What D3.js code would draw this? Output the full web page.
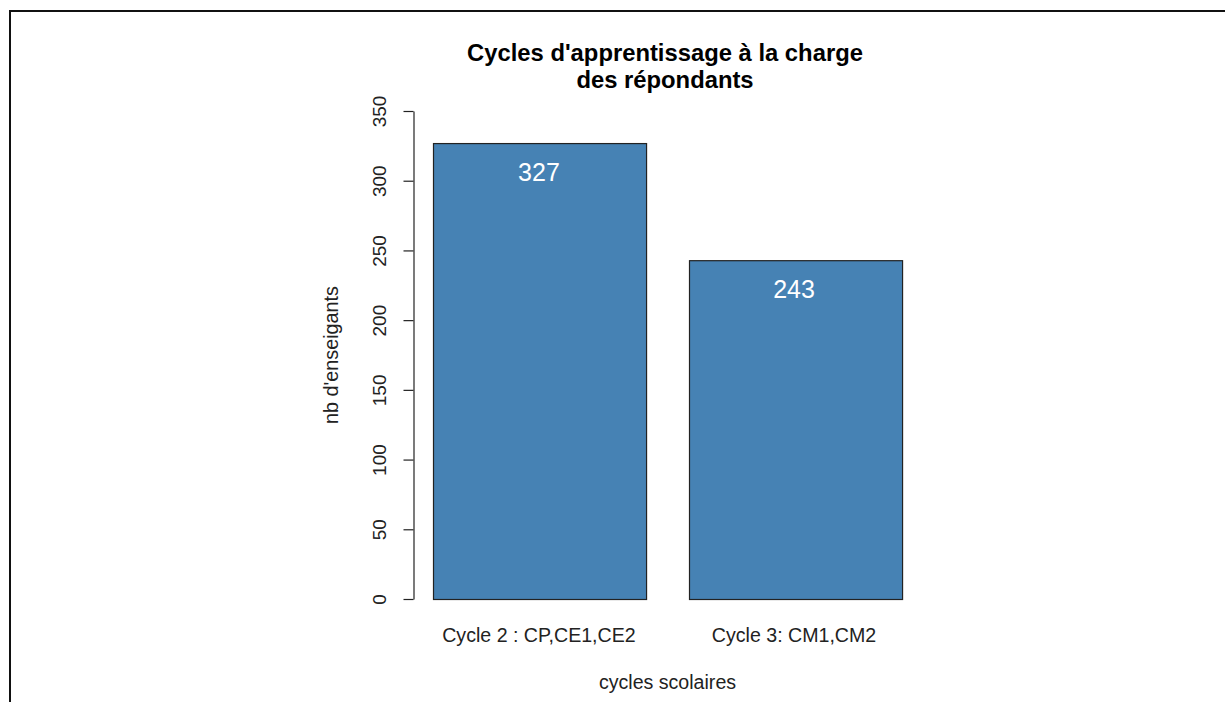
<!DOCTYPE html>
<html>
<head>
<meta charset="utf-8">
<script src="https://cdn.jsdelivr.net/npm/d3@7"></script>
<style>
  html, body { margin: 0; padding: 0; background: #fff; }
  svg { display: block; }
  text { font-family: "Liberation Sans", Arial, Helvetica, sans-serif; }
</style>
</head>
<body>
<svg id="chart" width="1225" height="702"></svg>
<script>
const categories = ["Cycle 2 : CP,CE1,CE2", "Cycle 3: CM1,CM2"];
const values = [327, 243];
const yTicks = [0, 50, 100, 150, 200, 250, 300, 350];
const titleLines = ["Cycles d'apprentissage à la charge", "des répondants"];
const xTitle = "cycles scolaires";
const yTitle = "nb d'enseigants";

const svg = d3.select("#chart");

// frame (top and left lines)
svg.append("line").attr("x1", 10).attr("y1", 11).attr("x2", 1225).attr("y2", 11)
  .attr("stroke", "#111").attr("stroke-width", 2);
svg.append("line").attr("x1", 10).attr("y1", 10).attr("x2", 10).attr("y2", 702)
  .attr("stroke", "#111").attr("stroke-width", 2);

const x = d3.scaleBand()
  .domain(categories)
  .range([412, 923])
  .paddingInner(0.1647)
  .paddingOuter(0.084);

const y = d3.scaleLinear().domain([0, 350]).range([599, 111]);

// bars
svg.append("g").selectAll("rect")
  .data(values)
  .join("rect")
  .attr("x", (d, i) => Math.round(x(categories[i])) + 0.5)
  .attr("y", d => y(d) + 0.5)
  .attr("width", x.bandwidth())
  .attr("height", d => y(0) - y(d))
  .attr("fill", "#4682B4")
  .attr("stroke", "#222")
  .attr("stroke-width", 1.2);

// value labels
svg.append("g").selectAll("text")
  .data(values)
  .join("text")
  .attr("x", (d, i) => x(categories[i]) + x.bandwidth() / 2 - 1)
  .attr("y", d => y(d) + 38)
  .attr("text-anchor", "middle")
  .attr("fill", "#fff")
  .attr("font-size", 25)
  .text(d => d);

// y axis
const yAxis = svg.append("g")
  .attr("transform", "translate(413.5,0)")
  .call(d3.axisLeft(y).tickValues(yTicks).tickSize(10).tickSizeOuter(0).tickFormat(d3.format("d")));
yAxis.select(".domain").attr("stroke", "#222").attr("stroke-width", 1.2);
yAxis.selectAll(".tick line").attr("stroke", "#222").attr("stroke-width", 1.2);
yAxis.selectAll(".tick text")
  .attr("transform", "rotate(-90)")
  .attr("x", 0)
  .attr("y", -28)
  .attr("dy", 0)
  .attr("text-anchor", "middle")
  .attr("font-size", 19)
  .attr("fill", "#222");

// x category labels
svg.append("g").selectAll("text")
  .data(categories)
  .join("text")
  .attr("x", d => x(d) + x.bandwidth() / 2 - 1)
  .attr("y", 642)
  .attr("text-anchor", "middle")
  .attr("font-size", 19.6)
  .attr("fill", "#222")
  .text(d => d);

// title
svg.append("g").selectAll("text")
  .data(titleLines)
  .join("text")
  .attr("x", 665)
  .attr("y", (d, i) => 61 + i * 26.5)
  .attr("text-anchor", "middle")
  .attr("font-size", 23.8)
  .attr("font-weight", "bold")
  .attr("fill", "#000")
  .text(d => d);

// axis titles
svg.append("text")
  .attr("x", 667.5)
  .attr("y", 689)
  .attr("text-anchor", "middle")
  .attr("font-size", 19.6)
  .attr("fill", "#222")
  .text(xTitle);

svg.append("text")
  .attr("transform", "translate(338,355) rotate(-90)")
  .attr("text-anchor", "middle")
  .attr("font-size", 19.8)
  .attr("fill", "#222")
  .text(yTitle);
</script>
</body>
</html>
